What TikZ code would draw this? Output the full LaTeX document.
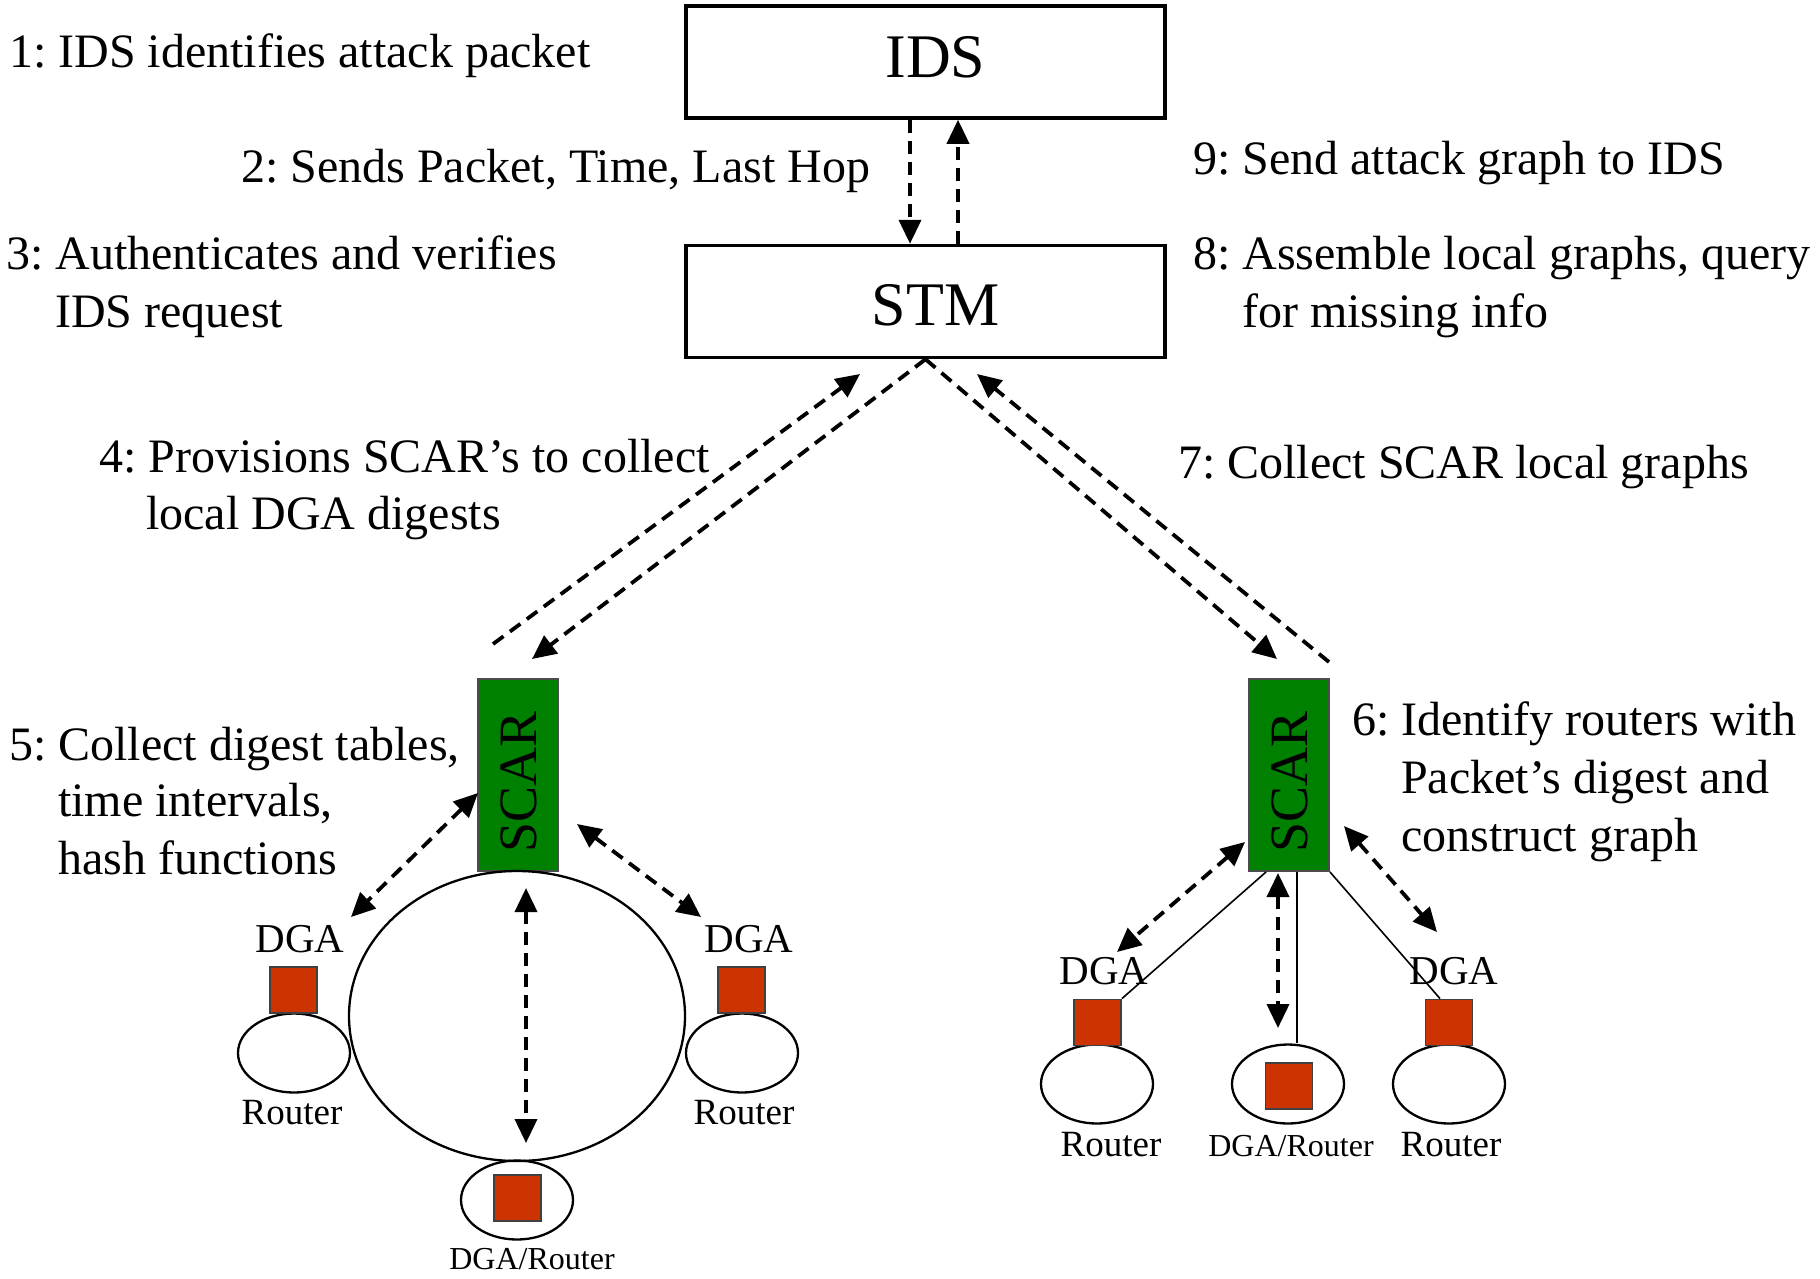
\documentclass[tikz,border=0pt]{standalone}
\usepackage{fontspec}
\setmainfont{Liberation Serif}
\usetikzlibrary{arrows.meta,shapes.geometric,calc}
\definecolor{scargreen}{RGB}{0,128,0}
\definecolor{dgared}{RGB}{204,51,0}
\frenchspacing

\begin{document}
\begin{tikzpicture}[x=1bp,y=-1bp,
  box/.style={draw, line width=3.5bp, minimum width=479bp, minimum height=112bp, inner sep=0},
  boxtext/.style={inner sep=0, font=\fontsize{62bp}{70bp}\selectfont},
  scarbox/.style={draw=black!70, fill=scargreen, line width=1.8bp, minimum width=80bp,
    minimum height=192bp, inner sep=0},
  scartext/.style={rotate=90, inner sep=0, font=\fontsize{54bp}{60bp}\selectfont},
  dgasq/.style={draw=black!75, fill=dgared, line width=1.8bp, minimum width=47bp,
    minimum height=46bp, inner sep=0},
  router/.style={draw, ellipse, line width=2.3bp, minimum width=112bp, minimum height=79bp, inner sep=0},
  ring/.style={draw, ellipse, line width=2.3bp, minimum width=336bp, minimum height=290bp, inner sep=0},
  lbl/.style={anchor=base west, inner sep=0, font=\fontsize{48bp}{58bp}\selectfont},
  dgalbl/.style={anchor=base, inner sep=0, font=\fontsize{41bp}{48bp}\selectfont},
  rtrlbl/.style={anchor=base, inner sep=0, font=\fontsize{37bp}{44bp}\selectfont},
  dglbl/.style={anchor=base, inner sep=0, font=\fontsize{32bp}{38bp}\selectfont},
  tip/.tip={Triangle[length=24bp, width=22bp]},
  flow/.style={line width=3.8bp, dash pattern=on 13bp off 8bp, -tip},
  twoway/.style={line width=3.8bp, dash pattern=on 13bp off 8bp, tip-tip},
  wire/.style={line width=1.6bp}
]
\useasboundingbox (0,0) rectangle (1820,1278);

% --- top boxes ---
\node[box] (ids) at (925.5,62) {};
\node[boxtext] (idst) at (935.5,57) {IDS};
\node[box] (stm) at (925.5,301.5) {};
\node[boxtext] (stmt) at (935.5,305) {STM};

\coordinate (xdown) at (910,0);
\coordinate (xup) at (958,0);
\draw[flow] (ids.south -| xdown) -- (stm.north -| xdown);
\draw[flow] (stm.north -| xup) -- (ids.south -| xup);

% --- step labels ---
\node[lbl] (s1) at (9,67) {1: IDS identifies attack packet};
\node[lbl] (s2) at (241,182) {2: Sends Packet, Time, Last Hop};
\node[lbl] (s9) at (1193,174) {9: Send attack graph to IDS};
\node[lbl] (s3a) at (6,269) {3: Authenticates and verifies};
\node[lbl] (s3b) at (55,327) {IDS request};
\node[lbl] (s8a) at (1193,269) {8: Assemble local graphs, query};
\node[lbl] (s8b) at (1242,327) {for missing info};
\node[lbl] (s4a) at (99,472) {4: Provisions SCAR’s to collect};
\node[lbl] (s4b) at (146,529) {local DGA digests};
\node[lbl] (s7) at (1178,478) {7: Collect SCAR local graphs};
\node[lbl] (s5a) at (9,760) {5: Collect digest tables,};
\node[lbl] (s5b) at (58,816) {time intervals,};
\node[lbl] (s5c) at (58,874) {hash functions};
\node[lbl] (s6a) at (1352,735) {6: Identify routers with};
\node[lbl] (s6b) at (1401,793) {Packet’s digest and};
\node[lbl] (s6c) at (1401,851) {construct graph};

% --- SCAR boxes ---
\node[scarbox] (scarL) at (518,775) {};
\node[scartext] (scarLt) at ($(scarL)+(1,7)$) {SCAR};
\node[scarbox] (scarR) at (1289,775) {};
\node[scartext] (scarRt) at ($(scarR)+(1,7)$) {SCAR};

% --- STM to SCAR links ---
\coordinate (aL) at (493,644);
\coordinate (aLtop) at (860,374);
\coordinate (bL) at (532,659);
\coordinate (cR) at (1277,659);
\coordinate (dR) at (1329,662);
\coordinate (dRtop) at (977,374);
\draw[flow] (aL) -- (aLtop);
\draw[flow] (stm.south) -- (bL);
\draw[flow] (stm.south) -- (cR);
\draw[flow] (dR) -- (dRtop);

% --- left cluster: ring of routers ---
\node[ring] (ring) at (517,1016) {};
\node[router] (rL1) at (294,1053) {};
\node[router] (rL2) at (742,1053) {};
\node[router] (rLb) at (517,1200) {};
\node[dgasq] (sqL1) at (293.5,990) {};
\node[dgasq] (sqL2) at (741.5,990) {};
\node[dgasq] (sqLb) at (517.5,1198) {};
\node[dgalbl] (gL1) at (300,952) {DGA};
\node[dgalbl] (gL2) at (749,952) {DGA};
\node[rtrlbl] (tL1) at (292,1124) {Router};
\node[rtrlbl] (tL2) at (744,1124) {Router};
\node[dglbl] (tLb) at (532,1269) {DGA/Router};

\coordinate (pL1) at (478,793);
\coordinate (qL1) at (351,917);
\coordinate (pL2) at (577,824);
\coordinate (qL2) at (701,917);
\coordinate (pLb) at (526,888);
\coordinate (qLb) at (526,1143);
\draw[twoway] (pL1) -- (qL1);
\draw[twoway] (pL2) -- (qL2);
\draw[twoway] (pLb) -- (qLb);

% --- right cluster: star of routers ---
\node[router] (rR1) at (1097,1084) {};
\node[router] (rR2) at (1288,1084) {};
\node[router] (rR3) at (1449,1084) {};
\node[dgasq] (sqR1) at (1097.5,1022.5) {};
\node[dgasq] (sqR2) at (1289,1086) {};
\node[dgasq] (sqR3) at (1449,1022.5) {};
\node[dgalbl] (gR1) at (1104,984) {DGA};
\node[dgalbl] (gR3) at (1454,984) {DGA};
\node[rtrlbl] (tR1) at (1111,1156) {Router};
\node[dglbl] (tR2) at (1291,1156) {DGA/Router};
\node[rtrlbl] (tR3) at (1451,1156) {Router};

\coordinate (xm) at (1297,0);
\draw[wire] ($(scarR.south west)+(18,0)$) -- (sqR1.north east);
\draw[wire] (scarR.south -| xm) -- (rR2.north -| xm);
\draw[wire] (scarR.south east) -- ($(sqR3.north)+(-9,0)$);

\coordinate (pR1) at (1245,842);
\coordinate (qR1) at (1117,952);
\coordinate (pR2) at (1278,873);
\coordinate (qR2) at (1278,1028);
\coordinate (pR3) at (1344,826);
\coordinate (qR3) at (1437,932);
\draw[twoway] (pR1) -- (qR1);
\draw[twoway] (pR2) -- (qR2);
\draw[twoway] (pR3) -- (qR3);
\end{tikzpicture}
\end{document}
